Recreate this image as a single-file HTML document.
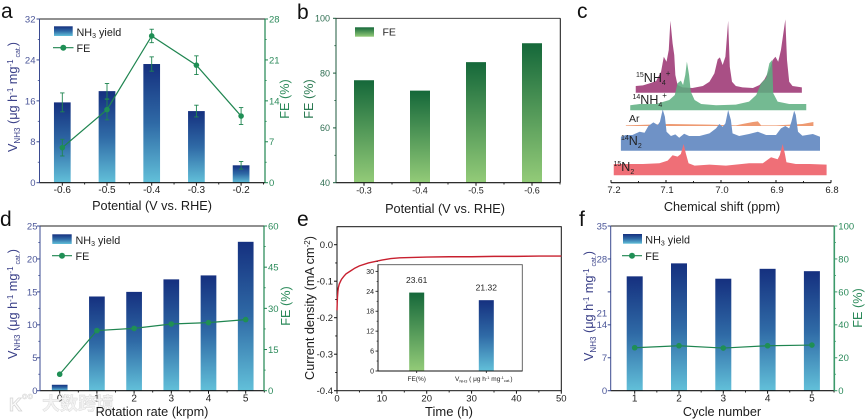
<!DOCTYPE html>
<html lang="en">
<head>
<meta charset="utf-8">
<title>NH3 electrosynthesis figure</title>
<style>
html,body{margin:0;padding:0;background:#fff;width:866px;height:420px;overflow:hidden}
svg{display:block;filter:blur(0.35px)}
text{font-family:"Liberation Sans","Noto Sans CJK SC",sans-serif}
.title{font-size:12.7px;fill:#1c1c1c}
.navy{fill:#3a4088}
.green{fill:#2b8a5a}
.letter{font-size:21px;fill:#111}
.leg{font-size:10.8px;fill:#222}
</style>
</head>
<body>
<svg id="fig" xmlns="http://www.w3.org/2000/svg" width="866" height="420" viewBox="0 0 866 420">
<defs>
<linearGradient id="gBlue" x1="0" y1="0" x2="0" y2="1"><stop offset="0" stop-color="#15307f"/><stop offset="0.5" stop-color="#2f6aa6"/><stop offset="1" stop-color="#62c0d9"/></linearGradient>
<linearGradient id="gGreen" x1="0" y1="0" x2="0" y2="1"><stop offset="0" stop-color="#15683a"/><stop offset="1" stop-color="#93cb78"/></linearGradient>
</defs>
<rect width="866" height="420" fill="#fff"/>
<g id="layer"></g>

<text class="letter" x="1" y="18">a</text>
<text class="letter" x="297" y="19">b</text>
<text class="letter" x="577" y="18">c</text>
<text class="letter" x="0" y="226">d</text>
<text class="letter" x="297" y="226">e</text>
<text class="letter" x="579" y="226">f</text>

<!-- panel a titles -->
<text class="title navy" text-anchor="middle" transform="translate(17,97) rotate(-90)">V<tspan font-size="8" dy="3">NH3</tspan><tspan dy="-3"> (μg h</tspan><tspan font-size="8" dy="-4">-1</tspan><tspan dy="4"> mg</tspan><tspan font-size="8" dy="-4">-1</tspan><tspan font-size="7" dy="7"> cat.</tspan><tspan dy="-3">)</tspan></text>
<text class="title green" text-anchor="middle" transform="translate(289,99) rotate(-90)">FE (%)</text>
<text class="title" text-anchor="middle" x="152" y="210">Potential (V vs. RHE)</text>
<!-- panel b titles -->
<text class="title" style="fill:#2b7a52" text-anchor="middle" transform="translate(313,99) rotate(-90)">FE (%)</text>
<text class="title" text-anchor="middle" x="445" y="213">Potential (V vs. RHE)</text>
<!-- panel c titles -->
<text class="title" text-anchor="middle" x="722" y="211">Chemical shift (ppm)</text>
<!-- panel d titles -->
<text class="title navy" text-anchor="middle" transform="translate(17,304) rotate(-90)">V<tspan font-size="8" dy="3">NH3</tspan><tspan dy="-3"> (μg h</tspan><tspan font-size="8" dy="-4">-1</tspan><tspan dy="4"> mg</tspan><tspan font-size="8" dy="-4">-1</tspan><tspan font-size="7" dy="7"> cat.</tspan><tspan dy="-3">)</tspan></text>
<text class="title green" text-anchor="middle" transform="translate(290,306) rotate(-90)">FE (%)</text>
<!-- panel e titles -->
<text class="title" text-anchor="middle" transform="translate(314,308) rotate(-90)">Current density (mA cm<tspan font-size="8" dy="-4">-2</tspan><tspan dy="4">)</tspan></text>
<text class="title" style="font-size:13px" text-anchor="middle" x="449" y="416">Time (h)</text>
<!-- panel f titles -->
<text class="title navy" text-anchor="middle" transform="translate(593,306) rotate(-90)">V<tspan font-size="8" dy="3">NH3</tspan><tspan dy="-3"> (μg h</tspan><tspan font-size="8" dy="-4">-1</tspan><tspan dy="4"> mg</tspan><tspan font-size="8" dy="-4">-1</tspan><tspan font-size="7" dy="7"> cat.</tspan><tspan dy="-3">)</tspan></text>
<text class="title green" text-anchor="middle" transform="translate(862,308) rotate(-90)">FE (%)</text>
<text class="title" text-anchor="middle" x="722" y="416">Cycle number</text>

<!-- legends -->
<rect x="54" y="26.3" width="18.7" height="9.7" fill="url(#gBlue)"/>
<text class="leg" x="76.5" y="36">NH<tspan font-size="7" dy="2">3</tspan><tspan dy="-2"> yield</tspan></text>
<line x1="53" x2="73.5" y1="47.7" y2="47.7" stroke="#1f8550" stroke-width="1.2"/>
<circle cx="63.3" cy="47.7" r="3" fill="#1f8f55"/>
<text class="leg" x="76.5" y="52">FE</text>

<rect x="355" y="27.3" width="19" height="9.4" fill="url(#gGreen)"/>
<text class="leg" style="font-size:10.5px" x="382.5" y="35.5">FE</text>

<rect x="52.3" y="234.3" width="19.4" height="9.7" fill="url(#gBlue)"/>
<text class="leg" x="75.5" y="244">NH<tspan font-size="7" dy="2">3</tspan><tspan dy="-2"> yield</tspan></text>
<line x1="52" x2="72" y1="255.7" y2="255.7" stroke="#1f8550" stroke-width="1.2"/>
<circle cx="62" cy="255.7" r="3" fill="#1f8f55"/>
<text class="leg" x="75.5" y="260">FE</text>

<rect x="623" y="234" width="19" height="9.7" fill="url(#gBlue)"/>
<text class="leg" x="645.3" y="243.5">NH<tspan font-size="7" dy="2">3</tspan><tspan dy="-2"> yield</tspan></text>
<line x1="622" x2="642" y1="255.7" y2="255.7" stroke="#1f8550" stroke-width="1.2"/>
<circle cx="632" cy="255.7" r="3" fill="#1f8f55"/>
<text class="leg" x="645.3" y="260">FE</text>

<!-- panel c spectrum labels -->
<text font-size="12.5" fill="#222" x="636" y="82"><tspan font-size="7" dy="-5">15</tspan><tspan dy="5">NH</tspan><tspan font-size="7" dy="3">4</tspan><tspan font-size="8" dy="-9">+</tspan></text>
<text font-size="12.5" fill="#222" x="632.5" y="104"><tspan font-size="7" dy="-5">14</tspan><tspan dy="5">NH</tspan><tspan font-size="7" dy="3">4</tspan><tspan font-size="8" dy="-9">+</tspan></text>
<text font-size="10.5" fill="#222" x="629" y="122">Ar</text>
<text font-size="12.5" fill="#222" x="621" y="145"><tspan font-size="7" dy="-5">14</tspan><tspan dy="5">N</tspan><tspan font-size="7" dy="3">2</tspan></text>
<text font-size="12.5" fill="#222" x="613.5" y="171"><tspan font-size="7" dy="-5">15</tspan><tspan dy="5">N</tspan><tspan font-size="7" dy="3">2</tspan></text>

<!-- watermark -->
<g>
<text x="9" y="411" font-size="18" font-weight="bold" fill="#fafafa" stroke="#d4d4d4" stroke-width="0.7">K</text>
<text x="22" y="399" font-size="9" font-weight="bold" fill="#fafafa" stroke="#d4d4d4" stroke-width="0.5">oo</text>
<text x="42" y="410" font-size="18" font-weight="bold" fill="#f3f3f3" stroke="#d6d6d6" stroke-width="0.4" style="font-family:'Noto Sans CJK SC',sans-serif">大数跨境</text>
</g>
<text class="title" text-anchor="middle" x="152" y="416">Rotation rate (krpm)</text>
</svg>

<script>
// ===== panel a data =====
const aCategories = ['-0.6', '-0.5', '-0.4', '-0.3', '-0.2'];
const aYield = [15.7, 17.9, 23.2, 14.0, 3.4];
const aYieldErr = [1.85, 1.5, 1.4, 1.15, 0.75];
const aFE = [6.0, 12.5, 25.1, 20.1, 11.4];
const aFEErr = [1.43, 1.75, 1.15, 1.6, 1.45];
const aLeftTicks = [0, 8, 16, 24, 32];
const aRightTicks = [0, 7, 14, 21, 28];
// ===== panel b data =====
const bCategories = ['-0.3', '-0.4', '-0.5', '-0.6'];
const bFE = [77.4, 73.6, 84.0, 90.9];
const bTicks = [40, 60, 80, 100];
// ===== panel c data (ppm / intensity a.u.) =====
const cTicks = [7.2, 7.1, 7.0, 6.9, 6.8];
const c15NH4Ppm = [7.155,7.142,7.130,7.118,7.109,7.104,7.099,7.095,7.092,7.088,7.085,7.083,7.079,7.070,7.052,7.033,7.021,7.012,7.006,7.002,6.997,6.992,6.987,6.984,6.980,6.973,6.961,6.942,6.930,6.921,6.912,6.906,6.901,6.896,6.891,6.883,6.880,6.876,6.870,6.853];
const c15NH4Int = [20,22,28,35,63,108,93,128,216,148,113,53,23,16,14,20,33,58,100,106,83,108,216,78,33,20,16,14,23,40,68,98,108,93,128,220,98,33,20,16];
const c14NH4Ppm = [7.165,7.148,7.118,7.094,7.084,7.079,7.073,7.069,7.065,7.062,7.058,7.055,7.048,7.036,7.009,6.973,6.949,6.936,6.927,6.918,6.912,6.907,6.905,6.897,6.876,6.845];
const c14NH4Int = [15,19,19,31,46,81,89,76,106,146,106,56,31,19,15,17,26,46,81,96,141,151,51,26,19,19];
const cArPpm = [7.173,7.094,7.021,6.973,6.961,6.942,6.933,6.927,6.900,6.852,6.832];
const cArInt = [2,6,4,2,6,12,14,2,2,6,12];
const c14N2Ppm = [7.182,7.173,7.161,7.148,7.139,7.132,7.123,7.115,7.111,7.106,7.102,7.099,7.091,7.083,7.076,7.067,7.058,7.039,7.021,7.009,7.003,6.997,6.992,6.987,6.982,6.979,6.967,6.949,6.933,6.918,6.900,6.891,6.883,6.876,6.872,6.867,6.864,6.860,6.852,6.833,6.820];
const c14N2Int = [42,47,47,57,54,74,85,77,87,124,102,57,44,49,39,51,44,44,52,67,80,72,82,122,92,52,44,50,57,47,47,67,74,67,87,120,107,57,45,50,42];
const c15N2Ppm = [7.195,7.173,7.142,7.112,7.097,7.088,7.079,7.073,7.068,7.064,7.059,7.048,7.021,6.991,6.949,6.924,6.909,6.897,6.893,6.888,6.884,6.881,6.864,6.839,6.808];
const c15N2Int = [34,34,34,36,44,60,56,64,94,66,36,29,32,29,36,36,54,48,61,94,66,39,34,34,32];
// ===== panel d data =====
const dCategories = ['0', '1', '2', '3', '4', '5'];
const dYield = [0.9, 14.3, 15.0, 16.9, 17.5, 22.6];
const dFE = [6.0, 21.9, 22.7, 24.3, 24.8, 25.9];
const dLeftTicks = [0, 5, 10, 15, 20, 25];
const dRightTicks = [0, 15, 30, 45, 60];
// ===== panel e data =====
const eTime = [0, 0.05, 0.1, 0.2, 0.3, 0.5, 0.8, 1, 1.5, 2, 3, 4, 5, 7, 10, 12, 14, 17, 20, 25, 30, 35, 40, 45, 50];
const eCurrent = [-0.18, -0.16, -0.145, -0.128, -0.118, -0.108, -0.1, -0.095, -0.087, -0.08, -0.072, -0.064, -0.058, -0.05, -0.042, -0.038, -0.036, -0.035, -0.034, -0.033, -0.033, -0.032, -0.032, -0.031, -0.031];
const eXTicks = [0, 10, 20, 30, 40, 50];
const eYTicks = ['0.0', '-0.1', '-0.2', '-0.3', '-0.4'];
const insetCategories = ['FE(%)', 'VNH3'];
const insetValues = [23.61, 21.32];
const insetTicks = [0, 6, 12, 18, 24, 30];
// ===== panel f data =====
const fCategories = ['1', '2', '3', '4', '5'];
const fYield = [24.3, 27.06, 23.8, 25.9, 25.4];
const fFE = [26.1, 27.3, 25.9, 27.3, 27.7];
const fLeftTicks = [0, 7, 14, 21, 28, 35];
const fRightTicks = [0, 20, 40, 60, 80, 100];

const NS = 'http://www.w3.org/2000/svg';
const layer = document.getElementById('layer');
function mk(tag, attrs, parent) {
  const n = document.createElementNS(NS, tag);
  for (const k in attrs) n.setAttribute(k, attrs[k]);
  (parent || layer).appendChild(n);
  return n;
}
function linear(d0, d1, r0, r1) {
  return v => r0 + (v - d0) * (r1 - r0) / (d1 - d0);
}
function hLine(x1, x2, y, color, w, name) {
  const n = mk('line', {x1: x1, x2: x2, y1: y, y2: y, stroke: color, 'stroke-width': w});
  
  
}
function vLine(x, y1, y2, color, w, name) {
  const n = mk('line', {x1: x, x2: x, y1: y1, y2: y2, stroke: color, 'stroke-width': w});
  
  
}
function label(str, x, y, anchor, size, color, name) {
  const n = mk('text', {x: x, y: y, 'text-anchor': anchor, 'font-size': size, fill: color});
  n.textContent = str;
  
  
  return n;
}
// y axis: side -1 = ticks to left, +1 = ticks to right; minor ticks halfway
function yAxis(prefix, x, scale, ticks, side, color, lineColor, size, lineW, labelOffset) {
  const top = Math.min(scale(ticks[0]), scale(ticks[ticks.length - 1]));
  const bottom = Math.max(scale(ticks[0]), scale(ticks[ticks.length - 1]));
  vLine(x, top, bottom, lineColor, lineW, prefix + '-axis-line');
  ticks.forEach((t, i) => {
    const y = scale(t);
    hLine(x, x + side * 3, y, lineColor, 1, prefix + '-tick');
    if (i < ticks.length - 1) {
      hLine(x, x + side * 1.7, (y + scale(ticks[i + 1])) / 2, lineColor, 0.8, prefix + '-minor-tick');
    }
    label(String(t), x + side * labelOffset, y + size * 0.36, side < 0 ? 'end' : 'start', size, color, prefix + '-tick-label');
  });
}
function xCategoryAxis(prefix, box, x0, step, cats, base, size) {
  hLine(box.l, box.r, box.b, '#111', 1.2, prefix + '-axis-line');
  hLine(box.l, box.r, box.t, '#222', 0.9, prefix + '-top-border');
  cats.forEach((c, i) => {
    const x = x0 + i * step;
    vLine(x, box.b, box.b + 3, '#111', 1, prefix + '-tick');
    vLine(x + step / 2, box.b, box.b + 1.8, '#111', 0.9, prefix + '-minor-tick');
    label(c, x, base, 'middle', size, '#222', prefix + '-tick-label');
  });
}
function bars(prefix, x0, step, width, values, scale, baseY, fill) {
  values.forEach((v, i) => {
    const y = scale(v);
    const r = mk('rect', {x: x0 + i * step - width / 2, y: y, width: width, height: baseY - y, fill: fill});
    
    
  });
}
function feLine(prefix, x0, step, values, scale) {
  const pts = values.map((v, i) => (x0 + i * step) + ',' + scale(v)).join(' ');
  const l = mk('polyline', {points: pts, fill: 'none', stroke: '#1f8550', 'stroke-width': 1.2});
  
  
}
function feDots(prefix, x0, step, values, scale) {
  values.forEach((v, i) => {
    const c = mk('circle', {cx: x0 + i * step, cy: scale(v), r: 2.8, fill: '#1f8f55'});
    
    
  });
}
function errorBars(prefix, x0, step, values, errs, scale) {
  values.forEach((v, i) => {
    const x = x0 + i * step;
    const hi = scale(v + errs[i]);
    const lo = scale(v - errs[i]);
    vLine(x, hi, lo, '#1f8550', 0.9, prefix + '-error-bar');
    hLine(x - 2.2, x + 2.2, hi, '#1f8550', 0.9, prefix + '-error-cap');
    hLine(x - 2.2, x + 2.2, lo, '#1f8550', 0.9, prefix + '-error-cap');
  });
}

const NAVY = '#4a5598', NAVYLINE = '#3a4a90', GRN = '#2b8a5a', GRNLINE = '#1f8550';

// ---------- panel a ----------
const boxA = {l: 39.5, r: 265, t: 19, b: 182.7};
const aL = linear(0, 32, boxA.b, boxA.t);
const aR = linear(0, 28, boxA.b, boxA.t);
bars('a-yield', 62.3, 44.7, 16.7, aYield, aL, boxA.b, 'url(#gBlue)');
errorBars('a-yield', 62.3, 44.7, aYield, aYieldErr, aL);
feLine('a', 62.3, 44.7, aFE, aR);
errorBars('a-fe', 62.3, 44.7, aFE, aFEErr, aR);
feDots('a', 62.3, 44.7, aFE, aR);
xCategoryAxis('a-x', boxA, 62.3, 44.7, aCategories, 193, 10);
yAxis('a-left', boxA.l, aL, aLeftTicks, -1, NAVY, NAVYLINE, 9.5, 1, 4);
yAxis('a-right', boxA.r, aR, aRightTicks, 1, GRN, GRNLINE, 9.5, 1.2, 4);

// ---------- panel b ----------
const boxB = {l: 336, r: 560.3, t: 18.3, b: 182.7};
const bY = linear(40, 100, boxB.b, boxB.t);
bars('b-fe', 364, 56, 20, bFE, bY, boxB.b, 'url(#gGreen)');
xCategoryAxis('b-x', boxB, 364, 56, bCategories, 193.5, 9);
yAxis('b-left', boxB.l, bY, bTicks, -1, '#2f6e52', '#1c5a3c', 9, 1, 6);
vLine(boxB.r, boxB.t, boxB.b, '#111', 1, 'b-right-border');

// ---------- panel c ----------
const cX = linear(7.2, 6.8, 611, 831);
const cUnit = 1 / 3;
function spectrum(name, ppm, ints, baseY, color, opacity) {
  const pts = ppm.map((p, i) => cX(p) + ',' + (baseY - ints[i] * cUnit));
  pts.unshift(cX(ppm[0]) + ',' + baseY);
  pts.push(cX(ppm[ppm.length - 1]) + ',' + baseY);
  const s = mk('polygon', {points: pts.join(' '), fill: color, opacity: opacity});
  
  
}
spectrum('spectrum-15nh4', c15NH4Ppm, c15NH4Int, 92.7, '#a94f85', 1);
spectrum('spectrum-14nh4', c14NH4Ppm, c14NH4Int, 110.3, '#5cae7f', 0.85);
spectrum('spectrum-ar', cArPpm, cArInt, 126, '#ee9a72', 1);
spectrum('spectrum-14n2', c14N2Ppm, c14N2Int, 150.7, '#6f92c6', 1);
spectrum('spectrum-15n2', c15N2Ppm, c15N2Int, 175.3, '#ef6f77', 1);
hLine(cX(7.2), cX(6.8), 182.7, '#111', 1.2, 'c-x-axis-line');
cTicks.forEach((t, i) => {
  vLine(cX(t), 180, 182.7, '#111', 1, 'c-x-tick');
  if (i < cTicks.length - 1) {
    vLine(cX(t - 0.05), 181, 182.7, '#111', 0.9, 'c-x-minor-tick');
  }
  label(t.toFixed(1), cX(t) + (i === 0 ? 3 : 1), 193, 'middle', 9.5, '#222', 'c-x-tick-label');
});

// ---------- panel d ----------
const boxD = {l: 40, r: 264, t: 226, b: 390.7};
const dL = linear(0, 25, boxD.b, boxD.t);
const dR = linear(0, 60, boxD.b, boxD.t);
bars('d-yield', 59.7, 37.2, 15.7, dYield, dL, boxD.b, 'url(#gBlue)');
feLine('d', 59.7, 37.2, dFE, dR);
feDots('d', 59.7, 37.2, dFE, dR);
xCategoryAxis('d-x', boxD, 59.7, 37.2, dCategories, 401.7, 10);
yAxis('d-left', boxD.l, dL, dLeftTicks, -1, NAVY, NAVYLINE, 9.5, 1, 2.5);
yAxis('d-right', boxD.r, dR, dRightTicks, 1, GRN, GRNLINE, 9.5, 1.2, 4);

// ---------- panel e ----------
const boxE = {l: 337, r: 561.3, t: 226.7, b: 390.7};
const eX = linear(0, 50, boxE.l, boxE.r);
const eY = linear(0, -0.4, 244.7, 390.7);
const frameE = mk('rect', {x: boxE.l, y: boxE.t, width: boxE.r - boxE.l, height: boxE.b - boxE.t, fill: 'none', stroke: '#111', 'stroke-width': 1});


eXTicks.forEach((t, i) => {
  vLine(eX(t), boxE.b, boxE.b + 3, '#111', 1, 'e-x-tick');
  if (i < eXTicks.length - 1) {
    vLine(eX(t + 5), boxE.b, boxE.b + 1.8, '#111', 0.9, 'e-x-minor-tick');
  }
  label(String(t), eX(t), 401.7, 'middle', 9.5, '#222', 'e-x-tick-label');
});
eYTicks.forEach((t, i) => {
  const y = eY(parseFloat(t));
  hLine(boxE.l - 3, boxE.l, y, '#111', 1, 'e-y-tick');
  if (i < eYTicks.length - 1) {
    hLine(boxE.l - 1.8, boxE.l, eY(parseFloat(t) - 0.05), '#111', 0.9, 'e-y-minor-tick');
  }
  label(t, boxE.l - 4, y + 3.4, 'end', 9.5, '#222', 'e-y-tick-label');
});
const eCurve = mk('polyline', {points: eTime.map((t, i) => eX(t) + ',' + eY(eCurrent[i])).join(' '), fill: 'none', stroke: '#c8202f', 'stroke-width': 1.4});



// inset
const boxI = {l: 378, r: 522.3, t: 264.7, b: 371};
const iY = linear(0, 32, boxI.b, boxI.t);
const insetBg = mk('rect', {x: boxI.l, y: boxI.t, width: boxI.r - boxI.l, height: boxI.b - boxI.t, fill: '#fff', stroke: '#555', 'stroke-width': 0.9});


insetValues.forEach((v, i) => {
  const cx = 416.7 + i * 69.6;
  const r = mk('rect', {x: cx - 7.5, y: iY(v), width: 15, height: boxI.b - iY(v), fill: i === 0 ? 'url(#gGreen)' : 'url(#gBlue)'});
  
  
  label(v.toFixed(2), cx, iY(v) - 9.5, 'middle', 8.5, '#222', 'inset-value-label');
  vLine(cx, boxI.b, boxI.b + 2, '#111', 0.8, 'inset-x-tick');
});
label(insetCategories[0], 416.7, 381, 'middle', 6.5, '#222', 'inset-x-label');
const insetV = label('V', 455, 381, 'start', 6.5, '#222', 'inset-x-label');
insetV.innerHTML = 'V<tspan font-size="4" dy="1.5">NH3</tspan><tspan dy="-1.5"> ( μg h</tspan><tspan font-size="4" dy="-2">-1</tspan><tspan dy="2"> mg</tspan><tspan font-size="4" dy="-2">-1</tspan><tspan font-size="4" dy="3">cat.</tspan><tspan dy="-1">)</tspan>';
insetTicks.forEach(t => {
  const y = iY(t);
  hLine(boxI.l - 2.5, boxI.l, y, '#111', 0.8, 'inset-y-tick');
  hLine(boxI.l - 1.4, boxI.l, iY(t + 3), '#111', 0.6, 'inset-y-minor-tick');
  label(String(t), boxI.l - 4, y + 2.5, 'end', 7, '#222', 'inset-y-tick-label');
});
hLine(boxI.l, boxI.r, boxI.b, '#111', 1, 'inset-x-axis-line');
vLine(boxI.l, boxI.t, boxI.b, '#111', 1, 'inset-y-axis-line');

// ---------- panel f ----------
const boxF = {l: 610.7, r: 834.3, t: 226, b: 390.7};
const fL = linear(0, 35, boxF.b, boxF.t);
const fR = linear(0, 100, boxF.b, boxF.t);
bars('f-yield', 634.7, 44.3, 16, fYield, fL, boxF.b, 'url(#gBlue)');
feLine('f', 634.7, 44.3, fFE, fR);
feDots('f', 634.7, 44.3, fFE, fR);
xCategoryAxis('f-x', boxF, 634.7, 44.3, fCategories, 401.7, 10);
vLine(boxF.l, boxF.t, boxF.b, NAVYLINE, 1, 'f-left-axis-line');
fLeftTicks.forEach(t => {
  const y = fL(t);
  hLine(boxF.l - 3, boxF.l, y, NAVYLINE, 1, 'f-left-tick');
  // the "21" label sits low in the source figure, roughly at the 16.5 level
  const labelY = t === 21 ? fL(16.5) : y;
  label(String(t), boxF.l - 3.5, labelY + 3.4, 'end', 9.5, NAVY, 'f-left-tick-label');
});
yAxis('f-right', boxF.r, fR, fRightTicks, 1, GRN, '#3b9a6a', 9.5, 1.6, 4);
</script>
</body>
</html>
